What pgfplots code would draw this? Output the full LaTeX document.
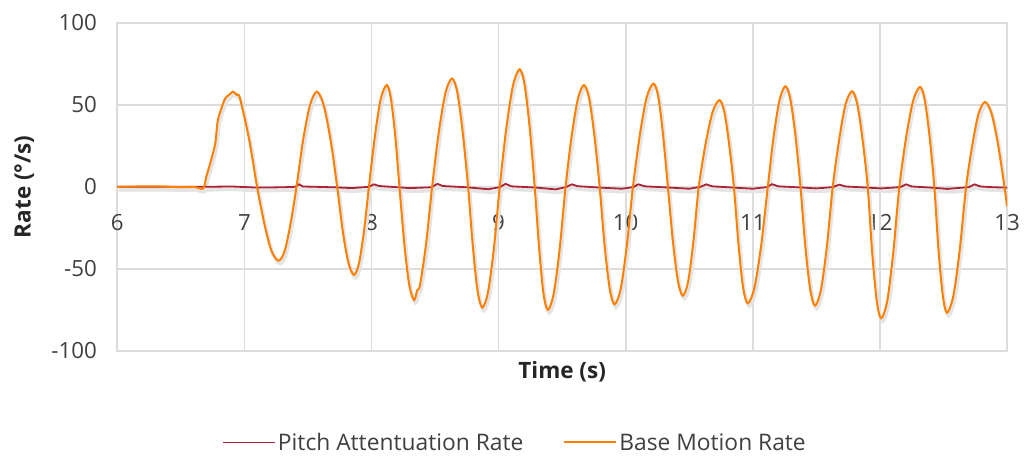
\documentclass[border=0pt]{standalone}
\usepackage{pgfplots}
\pgfplotsset{compat=1.18}
\usepackage{pgfplotstable}
\usepackage{fontspec}
\setmainfont{Open Sans}
\definecolor{baseorange}{RGB}{255,128,0}
\definecolor{pitchred}{RGB}{170,35,55}
\definecolor{gridgray}{RGB}{220,220,220}
\definecolor{shadowgray}{RGB}{228,228,228}
\definecolor{txt}{RGB}{64,64,64}
\definecolor{lbl}{RGB}{38,38,38}

\pgfplotstableread{
t v
6.000 0
6.300 0.3
6.500 -0.2
6.600 0
6.676 -1
6.700 6
6.730 14
6.770 26
6.790 40
6.820 48
6.850 54
6.880 56
6.910 58
6.940 56
6.965 54
7.037 29
7.100 0
7.157 -22.5
7.213 -39
7.270 -45
7.317 -39
7.363 -22.5
7.410 0
7.463 29
7.517 50
7.570 58
7.623 50
7.677 29
7.730 0
7.774 -27
7.819 -46.5
7.863 -53.7
7.902 -46.5
7.941 -27
7.980 0
8.027 31
8.073 53.6
8.120 62
8.153 53.6
8.187 31
8.220 0
8.258 -34.5
8.297 -59.8
8.335 -69
8.360 -63
8.382 -59.8
8.430 -34.5
8.477 0
8.529 33
8.582 57.2
8.634 66
8.676 57.2
8.718 33
8.760 0
8.798 -36.8
8.835 -63.7
8.873 -73.6
8.918 -63.7
8.964 -36.8
9.009 0
9.061 35.8
9.114 62
9.166 71.6
9.205 62
9.245 35.8
9.284 0
9.319 -37.5
9.353 -65
9.388 -75
9.434 -65
9.481 -37.5
9.527 0
9.575 31
9.624 53.6
9.672 62
9.713 53.6
9.754 31
9.795 0
9.834 -35.8
9.874 -62
9.913 -71.6
9.961 -62
10.009 -35.8
10.057 0
10.111 31.5
10.165 54.5
10.219 62.9
10.257 54.5
10.294 31.5
10.332 0
10.371 -33
10.411 -57.4
10.450 -66.3
10.492 -57.4
10.533 -33
10.575 0
10.629 26.4
10.684 45.7
10.738 52.8
10.776 45.7
10.813 26.4
10.851 0
10.888 -35.5
10.924 -61.5
10.961 -71
11.013 -61.5
11.066 -35.5
11.118 0
11.164 30.7
11.211 53.1
11.257 61.3
11.296 53.1
11.336 30.7
11.375 0
11.413 -36.2
11.452 -62.7
11.490 -72.4
11.536 -62.7
11.583 -36.2
11.629 0
11.680 29.1
11.730 50.4
11.781 58.2
11.822 50.4
11.863 29.1
11.904 0
11.939 -40
11.975 -69.4
12.010 -80.1
12.058 -69.4
12.105 -40
12.153 0
12.207 30.5
12.262 52.7
12.316 60.9
12.353 52.7
12.391 30.5
12.428 0
12.461 -38.4
12.495 -66.4
12.528 -76.7
12.578 -66.4
12.628 -38.4
12.678 0
12.728 25.9
12.777 44.8
12.827 51.7
12.878 44.8
12.929 25.9
12.980 0
13.000 -12
}\basedata

\pgfplotstableread{
t v
6.00 0
6.70 0
6.90 0.2
7.10 -0.5
7.30 -0.3
7.40 0
7.43 1.5
7.46 0.2
7.70 -0.3
7.85 -0.8
7.98 0
8.02 1.5
8.06 0.5
8.30 -0.8
8.47 -0.3
8.52 1.8
8.56 0.5
8.75 -0.3
8.92 -1.5
9.01 -0.2
9.056 1.8
9.10 0.3
9.30 -0.5
9.45 -1.6
9.53 -0.2
9.577 1.5
9.62 0.4
9.80 -0.5
9.97 -1.2
10.06 -0.2
10.10 1.5
10.15 0.3
10.35 -0.5
10.50 -1.2
10.59 0
10.634 1.5
10.68 0.3
10.85 -0.5
11.00 -1.2
11.11 -0.2
11.152 1.6
11.20 0.3
11.40 -0.5
11.50 -1.0
11.63 -0.2
11.68 1.3
11.73 0.2
11.90 -0.5
12.01 -1.0
12.16 -0.2
12.206 1.5
12.25 0.2
12.40 -0.5
12.53 -1.3
12.70 -0.2
12.743 1.5
12.79 0.2
12.90 -0.3
13.00 -0.5
}\pitchdata

\begin{document}
\begin{tikzpicture}
\begin{axis}[name=ax, set layers, scale only axis, width=890bp, height=328.3bp,
  xmin=6, xmax=13, ymin=-100, ymax=100,
  xtick={6,7,8,9,10,11,12,13}, ytick={-100,-50,0,50,100},
  xticklabels={6,7,8,9,10,11,12,13}, yticklabels={-100,-50,0,50,100},
  grid=major, grid style={draw=gridgray, line width=1.7bp},
  axis line style={draw=gridgray, line width=1.7bp},
  major tick length=0pt,
  tick label style={font=\fontsize{22.3bp}{27bp}\selectfont, text=txt},
  xticklabel style={anchor=north, yshift=140.15bp},
  yticklabel style={anchor=east, xshift=-17bp},
  xlabel={Time (s)}, ylabel={Rate (°/s)},
  every axis x label/.style={at={(axis description cs:0.5,-0.064)}, anchor=center,
     font=\fontsize{22.5bp}{27bp}\selectfont\bfseries, text=lbl},
  every axis y label/.style={at={(axis description cs:-0.1045,0.5)}, anchor=center, rotate=90,
     font=\fontsize{22.5bp}{27bp}\selectfont\bfseries, text=lbl},
  legend columns=2,
  legend style={at={(axis description cs:0.447,-0.279)}, anchor=center, draw=none, fill=none,
     font=\fontsize{22.8bp}{27bp}\selectfont, text=txt,
     /tikz/every even column/.append style={column sep=38bp}},
  legend image code/.code={\draw[#1] (0bp,0bp) -- (52bp,0bp);},
]
\addplot[shadowgray, line width=3.5bp, xshift=1.5bp, yshift=-3bp, smooth, forget plot] table[x=t,y=v] {\pitchdata};
\addplot[shadowgray, line width=3.5bp, xshift=1.5bp, yshift=-3bp, smooth, forget plot] table[x=t,y=v] {\basedata};
\addplot[pitchred, line width=1.8bp] table[x=t,y=v] {\pitchdata};
\addlegendentry{Pitch Attentuation Rate}
\addplot[baseorange, line width=2bp, smooth] table[x=t,y=v] {\basedata};
\addlegendentry{Base Motion Rate}
\end{axis}
\path[use as bounding box] ([shift={(-117.3bp,-106bp)}]ax.south west) rectangle ([shift={(20bp,22.7bp)}]ax.north east);
\end{tikzpicture}
\end{document}
